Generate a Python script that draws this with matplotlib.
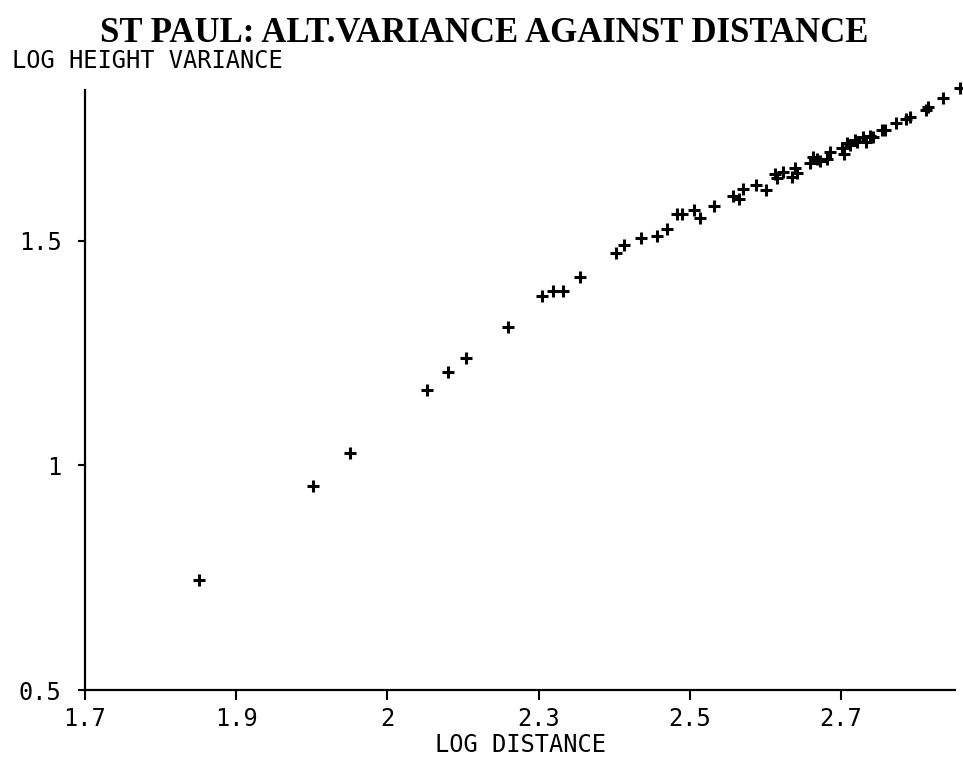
import numpy as np
import matplotlib
matplotlib.use("Agg")
import matplotlib.pyplot as plt

# Datos (log distancia, log varianza de altura)
log_distancia = [1.851, 2.001, 2.051, 2.153, 2.180, 2.204, 2.260, 2.305, 2.319, 2.332,
                 2.355, 2.403, 2.413, 2.436, 2.457, 2.470, 2.483, 2.490, 2.506, 2.513,
                 2.532, 2.557, 2.565, 2.570, 2.588, 2.601, 2.613, 2.615, 2.624, 2.636,
                 2.639, 2.642, 2.659, 2.663, 2.669, 2.672, 2.682, 2.685, 2.701, 2.704,
                 2.708, 2.712, 2.719, 2.722, 2.729, 2.733, 2.738, 2.742, 2.754, 2.758,
                 2.773, 2.786, 2.792, 2.812, 2.815, 2.835, 2.857]
log_varianza = [0.745, 0.954, 1.028, 1.168, 1.209, 1.239, 1.309, 1.377, 1.389, 1.389,
                1.420, 1.473, 1.491, 1.506, 1.510, 1.527, 1.559, 1.559, 1.569, 1.552,
                1.578, 1.599, 1.594, 1.615, 1.624, 1.614, 1.649, 1.640, 1.654, 1.642,
                1.662, 1.651, 1.673, 1.686, 1.682, 1.677, 1.682, 1.699, 1.706, 1.694,
                1.718, 1.714, 1.725, 1.721, 1.731, 1.721, 1.734, 1.731, 1.747, 1.746,
                1.763, 1.771, 1.775, 1.792, 1.798, 1.818, 1.840]

x_ticks = [1.7, 1.9, 2.1, 2.3, 2.5, 2.7]
x_tick_labels = ['1.7', '1.9', '2', '2.3', '2.5', '2.7']
y_ticks = [0.5, 1.0, 1.5]
y_tick_labels = ['0.5', '1', '1.5']

W, H = 963, 760
fig = plt.figure(figsize=(W / 100, H / 100), dpi=100)
ax = fig.add_axes([85 / W, 70 / H, (955 - 85) / W, (690 - 90) / H])

# Puntos
ax.plot(log_distancia, log_varianza, linestyle='none', marker='+', color='black',
        markersize=8, markeredgewidth=2.2, clip_on=False)

# Ejes
ax.set_xlim(1.7, 2.851)
ax.set_ylim(0.5, 1.836)
for lado in ['top', 'right']:
    ax.spines[lado].set_visible(False)
for lado in ['left', 'bottom']:
    ax.spines[lado].set_linewidth(1.6)

fuente = 'DejaVu Sans Mono'
ax.set_xticks(x_ticks)
ax.set_xticklabels(x_tick_labels, family=fuente, fontsize=17)
ax.set_yticks(y_ticks)
ax.set_yticklabels(y_tick_labels, family=fuente, fontsize=17)
ax.tick_params(axis='x', direction='out', length=7, width=1.5, pad=5)
ax.tick_params(axis='y', direction='out', length=5, width=1.5, pad=12)

# Textos
fig.text(484 / W, 1 - 33 / H, 'ST PAUL: ALT.VARIANCE AGAINST DISTANCE',
         ha='center', va='center', family='Liberation Serif', fontweight='bold', fontsize=25)
fig.text(12 / W, 1 - 61 / H, 'LOG HEIGHT VARIANCE', ha='left', va='center',
         family=fuente, fontsize=17)
fig.text(520 / W, 1 - 745 / H, 'LOG DISTANCE', ha='center', va='center',
         family=fuente, fontsize=17)

fig.savefig('out.png', dpi=100)
